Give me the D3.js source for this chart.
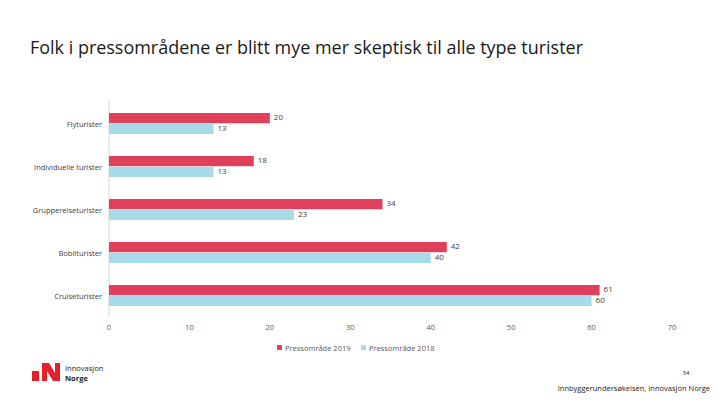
<!DOCTYPE html>
<html><head><meta charset="utf-8">
<script src="https://cdn.jsdelivr.net/npm/d3@7/dist/d3.min.js"></script>
<style>body{margin:0;background:#fff;}svg{display:block;font-family:"Open Sans","Noto Sans",sans-serif;}</style>
</head><body>
<svg id="c" width="720" height="405"></svg>
<script>
const categories = ["Flyturister","Individuelle turister","Gruppereiseturister","Bobilturister","Cruiseturister"];
const series2019 = [20,18,34,42,61];
const series2018 = [13,13,23,40,60];
const seriesNames = ["Pressområde 2019","Pressområde 2018"];
const xTicks = [0,10,20,30,40,50,60,70];

const svg = d3.select("#c");
const red = "#e0405a", blue = "#a8dbe8";

svg.append("text").attr("x",30).attr("y",54).attr("font-size",18).attr("fill","#1a1a1a")
  .attr("textLength",553).attr("lengthAdjust","spacingAndGlyphs")
  .text("Folk i pressområdene er blitt mye mer skeptisk til alle type turister");

const x = d3.scaleLinear().domain([0,70]).range([109,672]);
const y = d3.scaleBand().domain(categories).range([102,317]);
const inner = d3.scaleBand().domain(seriesNames).range([0,21]).paddingInner(0.05);
const off = (y.bandwidth()-21)/2;

svg.append("line").attr("x1",109).attr("x2",109).attr("y1",100).attr("y2",317).attr("stroke","#d9d9d9");

const data = [series2019, series2018];
const colors = [red, blue];
data.forEach((s,si)=>{
  const g = svg.append("g");
  g.selectAll("rect").data(s).join("rect")
    .attr("x",x(0)).attr("y",(d,i)=>y(categories[i])+off+inner(seriesNames[si]))
    .attr("width",d=>x(d)-x(0)).attr("height",inner.bandwidth()).attr("fill",colors[si]);
  g.selectAll("text").data(s).join("text")
    .attr("x",d=>x(d)+4).attr("y",(d,i)=>y(categories[i])+off+inner(seriesNames[si])+inner.bandwidth()/2+2)
    .attr("font-size",8).attr("fill","#404040").text(d=>d);
});

svg.append("g").selectAll("text").data(categories).join("text")
  .attr("x",102).attr("y",d=>y(d)+y.bandwidth()/2+3).attr("text-anchor","end")
  .attr("font-size",7.5).attr("fill","#404040").text(d=>d);

svg.append("g").selectAll("text").data(xTicks).join("text")
  .attr("x",d=>x(d)).attr("y",330).attr("text-anchor","middle")
  .attr("font-size",7.5).attr("fill","#595959").text(d=>d);

// legend
const leg = svg.append("g");
const lx = [277, 361];
seriesNames.forEach((n,i)=>{
  leg.append("rect").attr("x",lx[i]).attr("y",345).attr("width",5).attr("height",5).attr("fill",colors[i]);
  leg.append("text").attr("x",lx[i]+8).attr("y",350.5).attr("font-size",7.5).attr("fill","#595959").text(n);
});

// logo
const logo = svg.append("g");
logo.append("rect").attr("x",32).attr("y",371).attr("width",7).attr("height",10).attr("fill","#e4202a");
logo.append("path").attr("d","M42,363 L49,363 L55,373 L55,363 L60,363 L60,381 L53,381 L47,371 L47,381 L42,381 Z").attr("fill","#e4202a");
logo.append("text").attr("x",65).attr("y",371).attr("font-size",7.5).attr("fill","#222").text("Innovasjon");
logo.append("text").attr("x",65).attr("y",381).attr("font-size",7.5).attr("font-weight","bold").attr("fill","#222").text("Norge");

svg.append("text").attr("x",686).attr("y",375).attr("text-anchor","middle").attr("font-size",6).attr("fill","#222").text("34");
svg.append("text").attr("x",710).attr("y",391).attr("text-anchor","end").attr("font-size",7.5).attr("fill","#222").text("Innbyggerundersøkelsen, Innovasjon Norge");
</script>
</body></html>
